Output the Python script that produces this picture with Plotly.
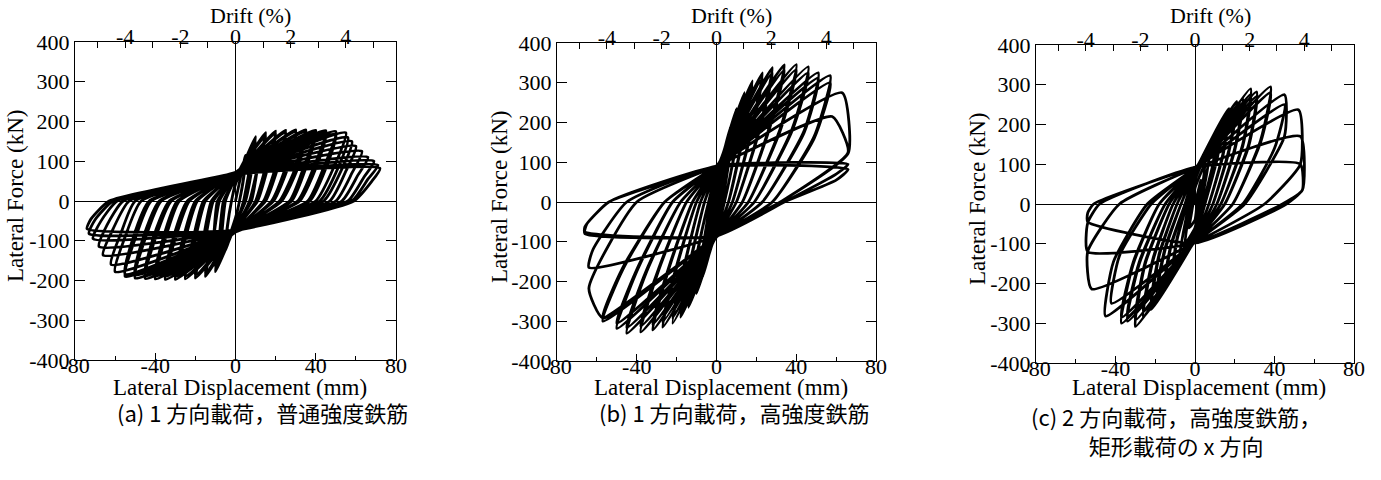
import plotly.graph_objects as go

# ---------------- Panel (a): 1 方向載荷, 普通強度鉄筋 ----------------
a_pos_peak_d = [5, 5, 10, 10, 15, 15, 20, 20, 25, 25, 30, 30, 35, 35, 40, 40, 45, 45, 50, 50, 55, 56, 58, 60, 63, 66, 69, 71, 72]
a_pos_peak_f = [115, 105, 162, 150, 172, 165, 176, 170, 178, 172, 179, 174, 179, 174, 178, 173, 177, 172, 175, 168, 172, 160, 150, 138, 125, 110, 100, 90, 82]
a_pos_knee_d = [4, 4, 7, 8, 11, 11, 15, 16, 20, 21, 25, 26, 30, 31, 34, 35, 39, 40, 44, 45, 49, 51, 53, 55, 58, 61, 64, 66, 68]
a_pos_knee_f = [60, 55, 80, 75, 85, 82, 85, 82, 85, 82, 85, 82, 85, 82, 85, 82, 85, 82, 85, 82, 85, 82, 80, 75, 70, 65, 60, 55, 50]
a_pos_res_d = [2, 2, 4, 5, 7, 8, 10, 11, 14, 15, 18, 19, 22, 23, 27, 28, 31, 32, 36, 37, 40, 42, 44, 47, 50, 53, 56, 58, 59]
a_neg_zero_f = [-45, -42, -60, -58, -68, -66, -72, -70, -75, -73, -77, -75, -78, -76, -78, -76, -78, -76, -78, -76, -77, -76, -76, -75, -75, -74, -74, -73, -73]
a_neg_peak_d = [-5, -5, -10, -10, -15, -15, -20, -20, -25, -25, -30, -30, -35, -35, -40, -40, -45, -45, -50, -50, -55, -55, -60, -62, -66, -68, -71, -73, -74]
a_neg_peak_f = [-125, -115, -178, -165, -190, -182, -194, -187, -196, -189, -197, -190, -197, -190, -196, -189, -195, -188, -194, -186, -190, -184, -178, -160, -136, -115, -95, -82, -70]
a_neg_knee_d = [-4, -4, -7, -8, -11, -11, -15, -16, -20, -21, -25, -26, -30, -31, -35, -36, -40, -41, -45, -46, -50, -51, -55, -57, -61, -64, -67, -70, -72]
a_neg_knee_f = [-65, -60, -90, -85, -95, -92, -95, -92, -95, -92, -95, -92, -95, -92, -95, -92, -95, -92, -95, -92, -95, -92, -90, -80, -70, -60, -50, -47, -45]
a_neg_res_d = [-2, -2, -5, -6, -8, -9, -11, -12, -15, -16, -19, -20, -23, -24, -28, -29, -32, -33, -37, -38, -42, -43, -47, -50, -53, -56, -59, -61, -63]
a_pos_zero_f = [45, 42, 58, 56, 64, 62, 68, 66, 70, 68, 72, 70, 72, 70, 72, 70, 72, 70, 72, 70, 72, 70, 71, 70, 70, 69, 68, 67, 66]

# ---------------- Panel (b): 1 方向載荷, 高強度鉄筋 ----------------
b_pos_peak_d = [2, 2, 4, 4, 7, 7, 10, 10, 14, 14, 18, 18, 23, 23, 28, 28, 34, 34, 40, 40, 46, 46, 51, 51, 57, 57, 63, 58, 66, 66]
b_pos_peak_f = [75, 70, 135, 125, 190, 180, 235, 222, 275, 262, 305, 292, 325, 312, 338, 325, 345, 332, 346, 333, 340, 325, 325, 312, 318, 300, 275, 215, 95, 82]
b_pos_knee_d = [1, 1, 3, 3, 5, 5, 7, 7, 10, 10, 13, 13, 17, 17, 21, 21, 26, 26, 32, 32, 38, 38, 44, 44, 49, 49, 66, 66, 60, 60]
b_pos_knee_f = [40, 38, 80, 75, 110, 105, 130, 125, 150, 145, 160, 155, 170, 165, 175, 170, 180, 175, 185, 180, 185, 180, 180, 175, 165, 160, 122, 125, 70, 55]
b_pos_res_d = [0.5, 0.5, 1, 1, 2, 2, 3, 3, 4, 4, 6, 6, 8, 8, 10, 10, 13, 13, 16, 16, 19, 19, 23, 23, 28, 28, 32, 32, 34, 34]
b_neg_zero_f = [-25, -25, -45, -45, -58, -58, -68, -68, -75, -75, -80, -80, -84, -84, -86, -86, -87, -87, -88, -88, -88, -88, -88, -88, -87, -87, -86, -86, -85, -85]
b_neg_peak_d = [-2, -2, -4, -4, -7, -7, -10, -10, -14, -14, -18, -18, -22, -22, -27, -27, -32, -32, -38, -38, -45, -45, -50, -50, -57, -57, -57, -64, -66, -66]
b_neg_peak_f = [-75, -70, -135, -125, -190, -178, -230, -218, -265, -252, -290, -276, -305, -292, -315, -302, -322, -308, -327, -312, -330, -316, -318, -305, -300, -290, -292, -165, -80, -75]
b_neg_knee_d = [-1, -1, -3, -3, -5, -5, -7, -7, -10, -10, -13, -13, -16, -16, -20, -20, -24, -24, -29, -29, -35, -35, -40, -40, -47, -47, -64, -62, -66, -65]
b_neg_knee_f = [-40, -38, -80, -75, -105, -100, -125, -120, -140, -135, -150, -145, -160, -155, -165, -160, -170, -165, -172, -167, -175, -170, -175, -170, -170, -165, -217, -120, -62, -55]
b_neg_res_d = [-0.5, -0.5, -1, -1, -2, -2, -3, -3, -4, -4, -6, -6, -8, -8, -10, -10, -12, -12, -15, -15, -18, -18, -22, -22, -26, -26, -40, -45, -54, -54]
b_pos_zero_f = [25, 25, 45, 45, 58, 58, 68, 68, 75, 75, 80, 80, 84, 84, 87, 87, 89, 89, 90, 90, 91, 91, 91, 91, 91, 91, 90, 90, 89, 88]

# ---------------- Panel (c): 2 方向載荷, 高強度鉄筋, x 方向 ----------------
c_pos_peak_d = [3, 5, 8, 11, 11, 14, 14, 17, 17, 21, 21, 24, 24, 28, 28, 31, 31, 38, 38, 45, 45, 52, 53, 53]
c_pos_peak_f = [60, 100, 150, 185, 175, 215, 205, 240, 228, 258, 245, 265, 255, 290, 275, 282, 270, 295, 280, 275, 250, 237, 170, 100]
c_pos_knee_d = [2, 4, 6, 9, 9, 11, 11, 14, 14, 17, 17, 20, 20, 24, 24, 27, 27, 33, 33, 45, 40, 53, 54, 54]
c_pos_knee_f = [30, 55, 80, 100, 95, 115, 110, 125, 120, 135, 130, 140, 135, 150, 145, 150, 145, 160, 155, 170, 140, 100, 35, 35]
c_pos_res_d = [1, 2, 3, 4, 4, 5, 5, 7, 7, 9, 9, 11, 11, 13, 13, 15, 15, 19, 19, 25, 24, 35, 44, 46]
c_neg_zero_f = [-40, -60, -70, -78, -78, -84, -84, -88, -88, -90, -90, -92, -92, -93, -93, -94, -94, -95, -95, -96, -96, -97, -98, -98]
c_neg_peak_d = [-3, -5, -8, -11, -11, -15, -15, -19, -19, -22, -22, -26, -26, -30, -30, -34, -34, -37, -37, -45, -42, -52, -54, -54]
c_neg_peak_f = [-60, -100, -140, -170, -160, -200, -190, -225, -214, -265, -250, -285, -272, -308, -292, -295, -282, -300, -285, -282, -250, -214, -120, -45]
c_neg_knee_d = [-2, -4, -6, -9, -9, -12, -12, -15, -15, -18, -18, -21, -21, -25, -25, -28, -28, -31, -31, -41, -38, -54, -54, -54]
c_neg_knee_f = [-30, -55, -75, -90, -85, -105, -100, -115, -110, -130, -125, -140, -135, -150, -145, -150, -145, -150, -145, -145, -130, -120, -48, -23]
c_neg_res_d = [-1, -2, -3, -4, -4, -5, -5, -7, -7, -9, -9, -11, -11, -13, -13, -15, -15, -18, -18, -24, -22, -38, -48, -51]
c_pos_zero_f = [40, 60, 70, 76, 76, 80, 80, 83, 83, 85, 85, 87, 87, 88, 88, 89, 89, 90, 90, 90, 90, 90, 92, 93]

# axis tick labels
y_tick_vals = [-400, -300, -200, -100, 0, 100, 200, 300, 400]
y_tick_text = ["-400", "-300", "-200", "-100", "0", "100", "200", "300", "400"]
x_tick_vals = [-80, -40, 0, 40, 80]
x_tick_text = ["-80", "-40", "0", "40", "80"]
drift_tick_vals = [-4, -2, 0, 2, 4]
drift_tick_text = ["-4", "-2", "0", "2", "4"]
mm_per_percent = 13.75

captions = ["(a) 1 方向載荷，普通強度鉄筋", "(b) 1 方向載荷，高強度鉄筋",
            "(c) 2 方向載荷，高強度鉄筋，<br>矩形載荷の x 方向"]


def load_path(ppd, ppf, pkd, pkf, prd, nzf, npd, npf, nkd, nkf, nrd, pzf):
    xs, ys = [0], [0]
    for i in range(len(ppd)):
        xs += [ppd[i], pkd[i], prd[i], 0, npd[i], nkd[i], nrd[i], 0]
        ys += [ppf[i], pkf[i], 0, nzf[i], npf[i], nkf[i], 0, pzf[i]]
    return xs, ys


paths = [
    load_path(a_pos_peak_d, a_pos_peak_f, a_pos_knee_d, a_pos_knee_f, a_pos_res_d, a_neg_zero_f,
              a_neg_peak_d, a_neg_peak_f, a_neg_knee_d, a_neg_knee_f, a_neg_res_d, a_pos_zero_f),
    load_path(b_pos_peak_d, b_pos_peak_f, b_pos_knee_d, b_pos_knee_f, b_pos_res_d, b_neg_zero_f,
              b_neg_peak_d, b_neg_peak_f, b_neg_knee_d, b_neg_knee_f, b_neg_res_d, b_pos_zero_f),
    load_path(c_pos_peak_d, c_pos_peak_f, c_pos_knee_d, c_pos_knee_f, c_pos_res_d, c_neg_zero_f,
              c_neg_peak_d, c_neg_peak_f, c_neg_knee_d, c_neg_knee_f, c_neg_res_d, c_pos_zero_f),
]

W, H = 1381, 480
# plot boxes in pixels: (left, right, top, bottom)
boxes = [(75, 396, 42, 360), (557, 876, 43, 361), (1036, 1354, 45, 363)]
ytitle_x = [15, 499, 977]
cap_x = [262, 734, 1176]


def px(xp):
    return xp / W


def py(yp):
    return 1 - yp / H


FONT = "Liberation Serif, Times New Roman, serif"
CJK = "Noto Sans CJK JP"

fig = go.Figure()
layout = dict(width=W, height=H, margin=dict(l=0, r=0, t=0, b=0, autoexpand=False),
              paper_bgcolor="white", plot_bgcolor="white", showlegend=False,
              font=dict(family=FONT, size=22, color="black"))
annotations = []

for k, (xs, ys) in enumerate(paths):
    l, r, t, b = boxes[k]
    xi, yi, di = k + 1, k + 1, k + 4
    xn = "x" if xi == 1 else f"x{xi}"
    yn = "y" if yi == 1 else f"y{yi}"
    dn = f"x{di}"
    fig.add_trace(go.Scatter(x=xs, y=ys, mode="lines", xaxis=xn, yaxis=yn,
                             line=dict(color="black", width=2.8, shape="spline", smoothing=0.5),
                             hoverinfo="skip"))
    # invisible trace to keep drift axis alive
    fig.add_trace(go.Scatter(x=[0], y=[0], mode="markers", xaxis=dn, yaxis=yn,
                             marker=dict(opacity=0), hoverinfo="skip"))
    xdom = [px(l), px(r)]
    ydom = [py(b), py(t)]
    kx = "xaxis" if xi == 1 else f"xaxis{xi}"
    ky = "yaxis" if yi == 1 else f"yaxis{yi}"
    layout[kx] = dict(domain=xdom, anchor=yn, range=[-80, 80], tickvals=x_tick_vals,
                      ticktext=x_tick_text, ticks="inside", ticklen=7, tickwidth=1,
                      tickcolor="black", showline=True, linecolor="black", linewidth=1.2,
                      mirror=True, showgrid=False, zeroline=True, zerolinecolor="black",
                      zerolinewidth=1, tickfont=dict(size=22), ticklabelstandoff=-15,
                      automargin=False,
                      minor=dict(dtick=20, tick0=0, ticks="inside", ticklen=4,
                                 tickcolor="black", tickwidth=1, showgrid=False))
    layout[ky] = dict(domain=ydom, anchor=xn, range=[-400, 400], tickvals=y_tick_vals,
                      ticktext=y_tick_text, ticks="inside", ticklen=10, tickwidth=1,
                      tickcolor="black", showline=True, linecolor="black", linewidth=1.2,
                      mirror="ticks", showgrid=False, zeroline=True, zerolinecolor="black",
                      zerolinewidth=1, tickfont=dict(size=22), ticklabelstandoff=0,
                      automargin=False)
    layout[f"xaxis{di}"] = dict(overlaying=xn, anchor=yn, side="top",
                                range=[-80 / mm_per_percent, 80 / mm_per_percent],
                                tickvals=drift_tick_vals, ticktext=drift_tick_text,
                                ticks="inside", ticklen=6, tickwidth=1, tickcolor="black",
                                showline=False, showgrid=False, zeroline=False,
                                tickfont=dict(size=22), ticklabelstandoff=-7,
                                automargin=False,
                                minor=dict(dtick=1, tick0=0, ticks="inside", ticklen=6,
                                           tickcolor="black", tickwidth=1, showgrid=False))
    cx = (l + r) / 2
    annotations.append(dict(text="Drift (%)", x=px(cx + 15), y=py(16), xref="paper",
                            yref="paper", showarrow=False, font=dict(size=22),
                            xanchor="center", yanchor="middle"))
    annotations.append(dict(text="Lateral Displacement (mm)", x=px(cx + 4),
                            y=py(387), xref="paper", yref="paper", showarrow=False,
                            font=dict(size=23), xanchor="center", yanchor="middle"))
    annotations.append(dict(text="Lateral Force (kN)", x=px(ytitle_x[k]),
                            y=py((t + b) / 2 - 5), xref="paper", yref="paper",
                            showarrow=False, textangle=-90, font=dict(size=23),
                            xanchor="center", yanchor="middle"))
    annotations.append(dict(text=captions[k], x=px(cap_x[k]), y=py(412), xref="paper",
                            yref="paper", showarrow=False, align="center",
                            font=dict(size=22, family=CJK), xanchor="center",
                            yanchor="top" if k == 2 else "middle",
                            yshift=14 if k == 2 else 0))

layout["annotations"] = annotations
fig.update_layout(**layout)
fig.write_html("out.html", config={"displayModeBar": False},
               post_script="document.body.style.margin='0';document.body.style.overflow='hidden';")
